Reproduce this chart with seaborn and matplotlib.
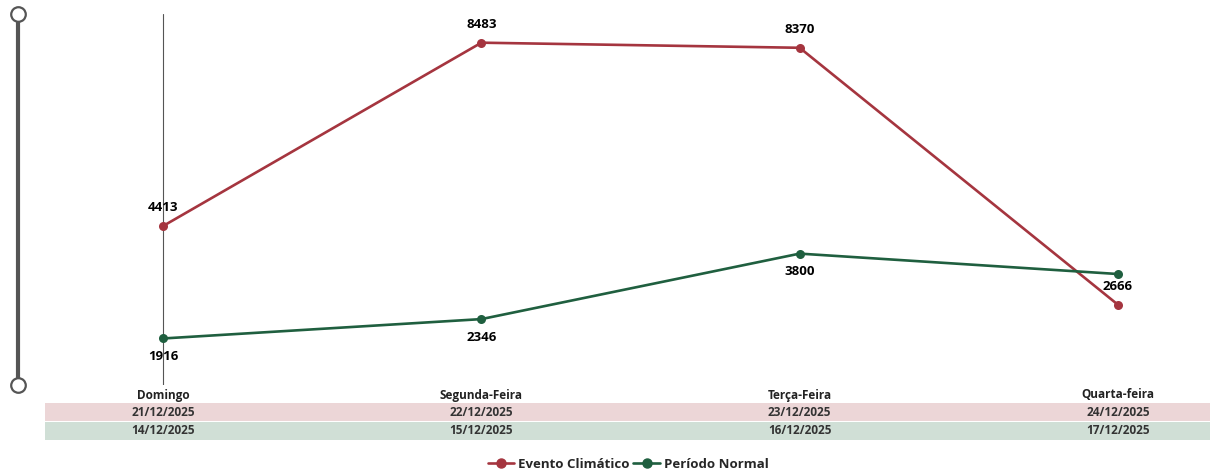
import numpy as np
import pandas as pd
import matplotlib
matplotlib.use("Agg")
import matplotlib.pyplot as plt
import matplotlib.transforms as mtransforms
from matplotlib.patches import Rectangle
from matplotlib.lines import Line2D
import seaborn as sns

# ==========================================
# dados
# ==========================================
dias = ['Domingo', 'Segunda-Feira', 'Terça-Feira', 'Quarta-feira']
datas_evento = ['21/12/2025', '22/12/2025', '23/12/2025', '24/12/2025']
datas_normal = ['14/12/2025', '15/12/2025', '16/12/2025', '17/12/2025']
evento = [4413, 8483, 8370, 2666]
normal = [1916, 2346, 3800, 3347]
# rótulo do último ponto normal fica escondido (sobreposição)
mostrar_normal = [True, True, True, False]

serie_evento = 'Evento Climático'
serie_normal = 'Período Normal'
cor_evento = '#a5353f'
cor_normal = '#1f5f3f'

sns.set_theme(style='white')
plt.rcParams['font.family'] = ['Open Sans', 'DejaVu Sans']

df = pd.DataFrame({
    'pos': list(range(len(dias))) * 2,
    'valor': evento + normal,
    'serie': [serie_evento] * len(dias) + [serie_normal] * len(dias),
})

W, H = 1210, 472
fig = plt.figure(figsize=(W / 100, H / 100), dpi=100)
ax = fig.add_axes([45 / W, 1 - 385 / H, (1210 - 45) / W, (385 - 14) / H])

sns.lineplot(data=df, x='pos', y='valor', hue='serie',
             palette={serie_evento: cor_evento, serie_normal: cor_normal},
             marker='o', markersize=6.5, markeredgewidth=0, linewidth=1.9,
             ax=ax, legend=False)

ax.set_xlim(-118 / 318, 3 + 92 / 318)
ax.set_ylim(883, 9120)
ax.axvline(0, color='#555555', linewidth=0.8, zorder=0)
for s in ax.spines.values():
    s.set_visible(False)
ax.set_xticks([])
ax.set_yticks([])
ax.set_xlabel('')
ax.set_ylabel('')

# rótulos de dados
for i, v in enumerate(evento):
    ax.annotate(str(v), (i, v), xytext=(0, 13), textcoords='offset points',
                ha='center', va='center', fontsize=9.5, fontweight='bold', color='black')
for i, v in enumerate(normal):
    if mostrar_normal[i]:
        ax.annotate(str(v), (i, v), xytext=(0, -13), textcoords='offset points',
                    ha='center', va='center', fontsize=9.5, fontweight='bold', color='black')

# tabela de datas abaixo do eixo
trans = mtransforms.blended_transform_factory(ax.transData, fig.transFigure)
fig.patches.append(Rectangle((45 / W, 1 - 421 / H), (1210 - 45) / W, 18 / H,
                             transform=fig.transFigure, facecolor='#ecd6d7',
                             edgecolor='none', zorder=-5))
fig.patches.append(Rectangle((45 / W, 1 - 440 / H), (1210 - 45) / W, 18 / H,
                             transform=fig.transFigure, facecolor='#d0dfd6',
                             edgecolor='none', zorder=-5))
for i, d in enumerate(dias):
    fig.text(i, 1 - 395 / H, d, transform=trans, ha='center', va='center',
             fontsize=8.5, fontweight='bold', color='#222222', zorder=5)
    fig.text(i, 1 - 412 / H, datas_evento[i], transform=trans, ha='center', va='center',
             fontsize=8.5, fontweight='bold', color='#333333', zorder=5)
    fig.text(i, 1 - 431 / H, datas_normal[i], transform=trans, ha='center', va='center',
             fontsize=8.5, fontweight='bold', color='#333333', zorder=5)

# controle deslizante à esquerda
fig.add_artist(Line2D([18 / W, 18 / W], [1 - 14 / H, 1 - 385 / H],
                      transform=fig.transFigure, color='#555555', linewidth=3.0))
for yp in (14, 385):
    fig.add_artist(Line2D([18 / W], [1 - yp / H], transform=fig.transFigure,
                          marker='o', markersize=10.5, markerfacecolor='white',
                          markeredgecolor='#555555', markeredgewidth=1.6, linestyle='none'))

# legenda
handles = [
    Line2D([0], [0], color=cor_evento, marker='o', markersize=6.5, linewidth=1.9),
    Line2D([0], [0], color=cor_normal, marker='o', markersize=6.5, linewidth=1.9),
]
fig.legend(handles, [serie_evento, serie_normal], loc='center',
           bbox_to_anchor=(628 / W, 1 - 464 / H), ncol=2, frameon=False,
           handlelength=2.0, handletextpad=0.3, columnspacing=0.3,
           prop={'size': 9.5, 'weight': 'bold'})

fig.savefig('out.png', dpi=100)
